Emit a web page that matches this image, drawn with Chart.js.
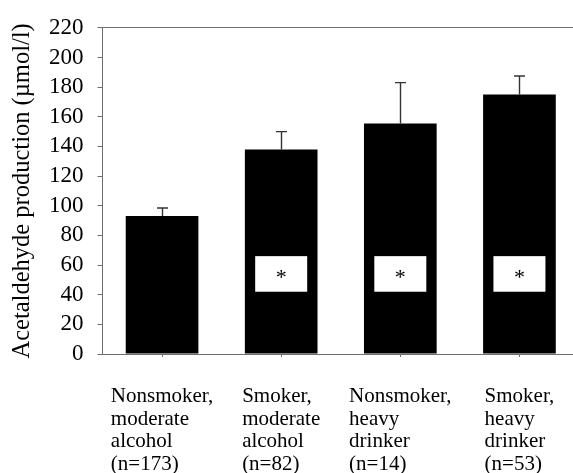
<!DOCTYPE html>
<html>
<head>
<meta charset="utf-8">
<script src="https://cdn.jsdelivr.net/npm/chart.js@4/dist/chart.umd.min.js"></script>
<style>
  html, body { margin: 0; padding: 0; background: #fff; overflow: hidden; }
  #wrap { width: 580px; height: 473px; }
</style>
</head>
<body>
<div id="wrap"><canvas id="c" width="580" height="473"></canvas></div>
<script>
// Group labels (one array of lines per bar)
const categories = [
  ['Nonsmoker,', 'moderate', 'alcohol', '(n=173)'],
  ['Smoker,', 'moderate', 'alcohol', '(n=82)'],
  ['Nonsmoker,', 'heavy', 'drinker', '(n=14)'],
  ['Smoker,', 'heavy', 'drinker', '(n=53)']
];
// Mean acetaldehyde production (µmol/l) and upper error (SE)
const means = [93, 138, 155.5, 175];
const errors = [5.5, 12, 27.5, 12.5];
// Groups marked as significantly different
const significant = [false, true, true, true];
const yTicks = [0, 20, 40, 60, 80, 100, 120, 140, 160, 180, 200, 220];

const SERIF = '"Liberation Serif", "Times New Roman", serif';
const AXIS = '#6e6e6e';

// Upward-only error bars with a small cap
const errorBars = {
  id: 'errorBars',
  afterDatasetsDraw(chart) {
    const y = chart.scales.y;
    const meta = chart.getDatasetMeta(0);
    const ctx = chart.ctx;
    ctx.save();
    ctx.strokeStyle = '#333';
    ctx.lineWidth = 1.4;
    meta.data.forEach((bar, i) => {
      const top = y.getPixelForValue(means[i] + errors[i]);
      const x = Math.round(bar.x) + 0.5;
      ctx.beginPath();
      ctx.moveTo(x, bar.y);
      ctx.lineTo(x, top);
      ctx.moveTo(x - 5.5, top);
      ctx.lineTo(x + 5.5, top);
      ctx.stroke();
    });
    ctx.restore();
  }
};

// White boxes with an asterisk inside the marked bars
const sigMarks = {
  id: 'sigMarks',
  afterDatasetsDraw(chart, args, opts) {
    const y = chart.scales.y;
    const meta = chart.getDatasetMeta(0);
    const ctx = chart.ctx;
    ctx.save();
    meta.data.forEach((bar, i) => {
      if (!significant[i]) return;
      const yTop = y.getPixelForValue(opts.high);
      const yBot = y.getPixelForValue(opts.low);
      const w = opts.width;
      ctx.fillStyle = '#fff';
      ctx.fillRect(bar.x - w / 2, yTop, w, yBot - yTop);
      ctx.fillStyle = '#000';
      ctx.font = '22px ' + SERIF;
      ctx.textAlign = 'center';
      ctx.textBaseline = 'middle';
      ctx.fillText('*', bar.x, (yTop + yBot) / 2 + 4);
    });
    ctx.restore();
  }
};

// Multi-line category labels, left-aligned within a block centred under each bar
const groupLabels = {
  id: 'groupLabels',
  afterDraw(chart, args, opts) {
    const x = chart.scales.x;
    const ctx = chart.ctx;
    ctx.save();
    ctx.font = opts.size + 'px ' + SERIF;
    ctx.fillStyle = '#000';
    ctx.textAlign = 'left';
    ctx.textBaseline = 'alphabetic';
    categories.forEach((lines, i) => {
      const cx = x.getPixelForTick(i);
      const w = Math.max(...lines.map(l => ctx.measureText(l).width));
      const left = cx - w / 2;
      lines.forEach((line, k) => {
        ctx.fillText(line, left, chart.chartArea.bottom + opts.first + k * opts.lineHeight);
      });
    });
    ctx.restore();
  }
};

new Chart(document.getElementById('c'), {
  type: 'bar',
  data: {
    labels: categories,
    datasets: [{
      data: means,
      backgroundColor: '#000',
      borderWidth: 0,
      barPercentage: 0.61,
      categoryPercentage: 1
    }]
  },
  options: {
    responsive: false,
    animation: false,
    layout: { padding: { top: 22, right: 1, left: 0, bottom: 0 } },
    plugins: {
      legend: { display: false },
      tooltip: { enabled: false },
      sigMarks: { low: 42, high: 66, width: 52 },
      groupLabels: { size: 21, first: 48, lineHeight: 22.7 }
    },
    scales: {
      x: {
        ticks: { display: false },
        grid: {
          offset: false,
          drawOnChartArea: false,
          drawTicks: true,
          tickLength: 3,
          tickColor: AXIS
        },
        border: { color: AXIS, width: 1 },
        afterFit(scale) { scale.height = 119; }
      },
      y: {
        min: 0,
        max: 220,
        afterBuildTicks(scale) { scale.ticks = yTicks.map(v => ({ value: v })); },
        ticks: {
          autoSkip: false,
          color: '#000',
          padding: 14,
          font: { family: SERIF, size: 23 }
        },
        grid: {
          drawTicks: true,
          tickLength: 5,
          tickColor: AXIS,
          color: ctx => (ctx.tick && ctx.tick.value === 220 ? AXIS : 'rgba(0,0,0,0)')
        },
        border: { color: AXIS, width: 1 },
        title: {
          display: true,
          text: 'Acetaldehyde production (µmol/l)',
          color: '#000',
          font: { family: SERIF, size: 24.5 },
          padding: { top: 8, bottom: 0 }
        },
        afterFit(scale) { scale.width = 102.5; }
      }
    }
  },
  plugins: [errorBars, sigMarks, groupLabels]
});
</script>
</body>
</html>
